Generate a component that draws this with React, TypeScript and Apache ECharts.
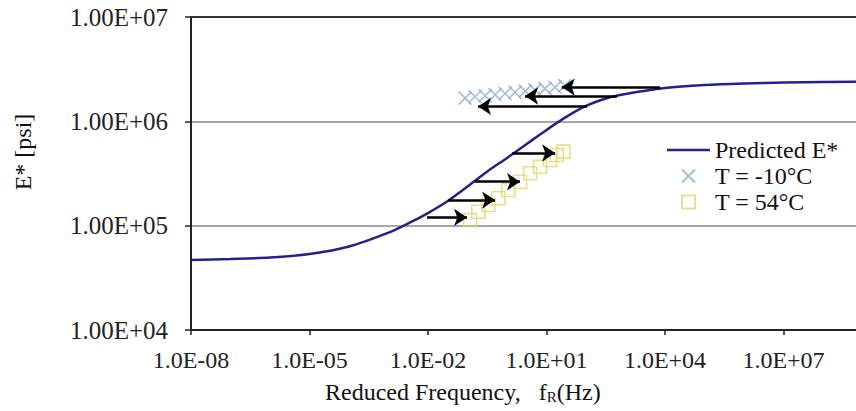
import React, { useEffect, useRef } from 'react';
import * as echarts from 'echarts';

// ---- data (real units) ----
const curveFreq = [1e-8, 1e-7, 1e-6, 1e-5, 1e-4, 1e-3, 3.16e-3, 1e-2, 3.16e-2, 0.1, 0.316, 1, 3.16, 10, 31.6, 100, 316, 1000, 1e4, 1e5, 1e6, 1e7, 1e8, 1e10];
const curveE = [46900, 47900, 49500, 53500, 63100, 85700, 105000, 132100, 172200, 237100, 330400, 445700, 606700, 826000, 1102000, 1403000, 1656000, 1828000, 2084000, 2228000, 2307000, 2355000, 2382000, 2410000];

const coldFreq = [0.087, 0.155, 0.28, 0.5, 0.9, 1.6, 2.9, 5.1, 9.2, 16.4, 29];
const coldE = [1670000, 1720000, 1760000, 1800000, 1850000, 1900000, 1950000, 2000000, 2060000, 2120000, 2200000];

const hotFreq = [0.116, 0.188, 0.338, 0.605, 1.08, 2.14, 3.84, 6.88, 12.3, 18.2, 26.8];
const hotE = [113000, 136000, 158000, 183000, 220000, 264000, 318000, 367000, 426000, 475000, 512000];

const arrowFromFreq = [7520, 612, 107, 1.35, 0.156, 0.0322, 0.00946];
const arrowToFreq = [24.4, 2.87, 0.185, 16.5, 2.14, 0.499, 0.0975];
const arrowE = [2130000, 1750000, 1390000, 497000, 264000, 176000, 120000];

const seriesNames = ['Predicted E*', 'T = -10°C', 'T = 54°C'];
const xTitle = 'Reduced Frequency,';
const yTitle = 'E* [psi]';

const FONT = 'Liberation Serif, Times New Roman, serif';
const lg = (v: number) => Math.log10(v);
const pad2 = (n: number) => String(Math.abs(Math.round(n))).padStart(2, '0');
const CROSS = 'path://M0,0L10,10M10,0L0,10';
const SQUARE = 'path://M0,0L10,0L10,10L0,10Z';
const LINE_ICON = 'path://M0,0L43,0L43,2.6L0,2.6Z';

export default function App() {
  const ref = useRef<HTMLDivElement>(null);
  useEffect(() => {
    document.body.style.margin = '0';
    if (!ref.current) return;
    const chart = echarts.init(ref.current, undefined, { renderer: 'svg' });
    const option: any = {
      animation: false,
      backgroundColor: '#fff',
      textStyle: { fontFamily: FONT },
      grid: { left: 191, top: 17, width: 711, height: 313, containLabel: false, outerBoundsMode: 'none' },
      xAxis: [
        {
          type: 'value', min: -8, max: 10, interval: 3,
          axisLine: { show: true, onZero: false, lineStyle: { color: '#222', width: 2 } },
          axisTick: { show: true, length: 5, lineStyle: { color: '#222', width: 1.5 } },
          axisLabel: {
            showMaxLabel: false, margin: 18,
            fontFamily: FONT, fontSize: 24, color: '#222',
            formatter: (v: number) => (v < 0 ? '1.0E-' : '1.0E+') + pad2(v),
          },
          splitLine: { show: false },
        },
        {
          type: 'value', min: -8, max: 10, position: 'top',
          axisLine: { show: true, onZero: false, lineStyle: { color: '#333', width: 2 } },
          axisTick: { show: false }, axisLabel: { show: false }, splitLine: { show: false },
        },
      ],
      yAxis: {
        type: 'value', min: 4, max: 7, interval: 1,
        axisLine: { show: true, onZero: false, lineStyle: { color: '#222', width: 2 } },
        axisTick: { show: true, length: 6, lineStyle: { color: '#222', width: 1.5 } },
        axisLabel: {
          margin: 23, fontFamily: FONT, fontSize: 25, color: '#222',
          formatter: (v: number) => '1.00E+' + pad2(v),
        },
        splitLine: { show: true, lineStyle: { color: '#8a8a8a', width: 1.5 } },
      },
      legend: {
        orient: 'vertical', left: 662, top: 133, itemWidth: 43, itemHeight: 13, itemGap: 2,
        symbolKeepAspect: true,
        textStyle: { fontFamily: FONT, fontSize: 24, color: '#111' },
        data: [
          { name: seriesNames[0], icon: LINE_ICON },
          { name: seriesNames[1], icon: CROSS },
          { name: seriesNames[2], icon: SQUARE },
        ],
      },
      series: [
        {
          name: seriesNames[0], type: 'line', smooth: 0.3, symbol: 'none', showSymbol: false, z: 3,
          lineStyle: { color: '#22228a', width: 2.5 }, itemStyle: { color: '#22228a' },
          data: curveFreq.map((f, i) => [lg(f), lg(curveE[i])]),
        },
        {
          name: seriesNames[1], type: 'scatter', symbol: CROSS, symbolSize: 13, z: 2,
          itemStyle: { color: 'rgba(0,0,0,0)', borderColor: '#8eaad8', borderWidth: 1.6 },
          data: coldFreq.map((f, i) => [lg(f), lg(coldE[i])]),
        },
        {
          name: seriesNames[2], type: 'scatter', symbol: SQUARE, symbolSize: 13, z: 2,
          itemStyle: { color: 'rgba(0,0,0,0)', borderColor: '#e6d66e', borderWidth: 1.6 },
          data: hotFreq.map((f, i) => [lg(f), lg(hotE[i])]),
        },
        {
          name: 'arrows', type: 'lines', coordinateSystem: 'cartesian2d', z: 5,
          symbol: ['none', 'arrow'], symbolSize: 13,
          lineStyle: { color: '#000', width: 2.5, opacity: 1 },
          data: arrowE.map((e, i) => ({ coords: [[lg(arrowFromFreq[i]), lg(e)], [lg(arrowToFreq[i]), lg(e)]] })),
        },
      ],
      graphic: [
        {
          type: 'text', x: 23, y: 152, rotation: Math.PI / 2,
          style: { text: yTitle, fontFamily: FONT, fontSize: 24, fill: '#111', align: 'center', verticalAlign: 'middle' },
        },
        {
          type: 'text', x: 325, y: 392,
          style: {
            text: '{a|' + xTitle + '   f}{b|R}{a|(Hz)}',
            fontFamily: FONT, fontSize: 24, fill: '#111', align: 'left', verticalAlign: 'middle',
            rich: {
              a: { fontFamily: FONT, fontSize: 24, fill: '#111' },
              b: { fontFamily: FONT, fontSize: 15, fill: '#111', verticalAlign: 'bottom' },
            },
          },
        },
      ],
    };
    chart.setOption(option);
    return () => chart.dispose();
  }, []);
  return <div ref={ref} style={{ width: 856, height: 411 }} />;
}
